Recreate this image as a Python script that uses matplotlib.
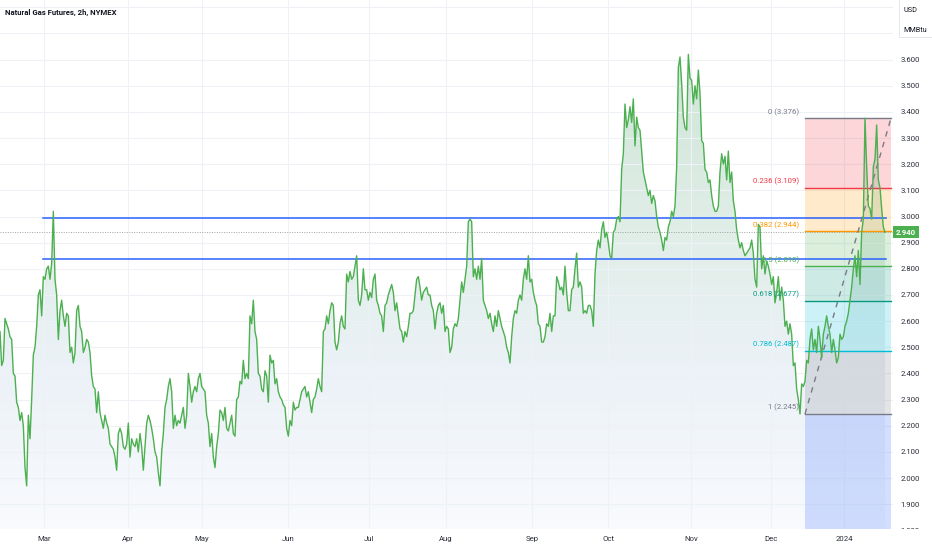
import numpy as np
import matplotlib
matplotlib.use("Agg")
import matplotlib.pyplot as plt
from matplotlib.path import Path
from matplotlib.patches import PathPatch, Rectangle
from matplotlib.transforms import Bbox, blended_transform_factory

# ---------------- data ----------------
title = "Natural Gas Futures, 2h, NYMEX"
currency_label = ["USD", "MMBtu"]

# close prices, one value per sampled bar (uniform spacing)
prices_feb_apr = [
    2.56, 2.43, 2.45, 2.61, 2.59, 2.57, 2.54, 2.53, 2.40, 2.39,
    2.29, 2.27, 2.22, 2.25, 2.20, 2.04, 1.97, 2.24, 2.15, 2.30,
    2.47, 2.50, 2.58, 2.70, 2.72, 2.62, 2.77, 2.76, 2.80, 2.81,
    2.76, 2.82, 3.02, 2.76, 2.70, 2.53, 2.64, 2.68, 2.62, 2.58,
    2.63, 2.62, 2.48, 2.50, 2.44, 2.48, 2.64, 2.66, 2.58, 2.56,
    2.48, 2.50, 2.53, 2.52, 2.48, 2.39, 2.35, 2.34, 2.25, 2.33,
    2.25, 2.22, 2.19, 2.24, 2.21, 2.19, 2.13, 2.12, 2.11, 2.08,
    2.03, 2.17, 2.19, 2.17, 2.12, 2.11, 2.13, 2.21, 2.08, 2.15,
    2.13, 2.12, 2.15, 2.10, 2.17, 2.12, 2.03, 2.12, 2.21, 2.24,
    2.22, 2.19, 2.15, 2.10, 2.08, 2.02, 1.97, 2.10, 2.17, 2.27,
    2.30, 2.35, 2.38, 2.33, 2.19, 2.24, 2.20, 2.22, 2.21, 2.24,
    2.27, 2.19, 2.24, 2.40, 2.35, 2.29, 2.33, 2.35, 2.33, 2.38,
    2.40, 2.35, 2.34, 2.33, 2.24, 2.21, 2.12, 2.17, 2.08, 2.04,
    2.12, 2.17,
]
prices_may_jul = [
    2.26, 2.25, 2.22, 2.27, 2.19, 2.18, 2.21, 2.24, 2.17, 2.16,
    2.30, 2.31, 2.37, 2.36, 2.45, 2.38, 2.40, 2.38, 2.62, 2.59,
    2.68, 2.56, 2.53, 2.40, 2.39, 2.34, 2.33, 2.41, 2.39, 2.29,
    2.47, 2.44, 2.45, 2.36, 2.38, 2.33, 2.31, 2.30, 2.28, 2.27,
    2.19, 2.16, 2.22, 2.20, 2.29, 2.26, 2.27, 2.27, 2.30, 2.33,
    2.34, 2.35, 2.31, 2.33, 2.29, 2.25, 2.30, 2.31, 2.34, 2.38,
    2.35, 2.33, 2.56, 2.57, 2.62, 2.59, 2.64, 2.67, 2.66, 2.52,
    2.49, 2.52, 2.59, 2.62, 2.58, 2.57, 2.78, 2.75, 2.79, 2.76,
    2.77, 2.81, 2.85, 2.68, 2.66, 2.70, 2.80, 2.72, 2.72, 2.68,
    2.71, 2.69, 2.76, 2.78, 2.68, 2.66, 2.63, 2.62, 2.56, 2.66,
    2.67, 2.70, 2.72, 2.74, 2.71, 2.64, 2.67, 2.62, 2.57, 2.56,
    2.52, 2.56, 2.54, 2.58, 2.63, 2.63, 2.64, 2.70, 2.76, 2.77,
    2.73, 2.68, 2.71, 2.72, 2.73, 2.70, 2.70, 2.66, 2.64, 2.57,
    2.63, 2.66,
]
prices_aug_sep = [
    2.67, 2.63, 2.66, 2.56, 2.58, 2.57, 2.48, 2.50, 2.57, 2.59,
    2.58, 2.61, 2.68, 2.75, 2.71, 2.76, 2.81, 2.98, 2.99, 2.98,
    2.77, 2.80, 2.76, 2.81, 2.76, 2.84, 2.68, 2.66, 2.64, 2.61,
    2.63, 2.59, 2.56, 2.62, 2.58, 2.64, 2.61, 2.58, 2.56, 2.54,
    2.50, 2.48, 2.44, 2.54, 2.61, 2.64, 2.63, 2.68, 2.70, 2.68,
    2.76, 2.80, 2.76, 2.85, 2.75, 2.76, 2.71, 2.68, 2.66, 2.59,
    2.58, 2.52, 2.52, 2.54, 2.59, 2.58, 2.63, 2.56, 2.62, 2.62,
    2.77, 2.75, 2.72, 2.73, 2.70, 2.81, 2.71, 2.64, 2.64, 2.72,
    2.73, 2.80, 2.86, 2.73, 2.75, 2.73, 2.63, 2.64, 2.63, 2.66,
]
prices_oct_nov = [
    2.66, 2.64, 2.58, 2.78, 2.87, 2.91, 2.88, 2.95, 2.98, 2.92,
    2.94, 2.90, 2.85, 2.84, 2.94, 2.95, 2.99, 3.00, 2.98, 3.18,
    3.24, 3.43, 3.34, 3.37, 3.42, 3.36, 3.45, 3.27, 3.38, 3.34,
    3.33, 3.25, 3.17, 3.14, 3.11, 3.08, 3.10, 3.05, 3.08, 3.06,
    3.00, 2.96, 2.94, 2.91, 2.87, 2.92, 2.91, 2.96, 2.98, 3.02,
    3.00, 3.04, 3.19, 3.57, 3.61, 3.51, 3.38, 3.34, 3.33, 3.62,
    3.53, 3.52, 3.43, 3.50, 3.45, 3.56, 3.47, 3.29, 3.28, 3.18,
    3.17, 3.13, 3.14, 3.08, 3.04, 3.02, 3.02, 3.04, 3.17, 3.24,
    3.20, 3.23, 3.14, 3.25, 3.13, 3.17, 3.06, 3.02, 2.95, 2.91,
    2.88, 2.90, 2.87, 2.85, 2.86, 2.87, 2.88, 2.91, 2.86, 2.76,
    2.73, 2.97, 2.96, 2.80, 2.85, 2.78, 2.83, 2.81, 2.78, 2.74,
    2.77, 2.67, 2.71, 2.77, 2.68, 2.73,
]
prices_dec_jan = [
    2.68, 2.58, 2.60, 2.55, 2.59, 2.55, 2.43, 2.44, 2.34, 2.30,
    2.245, 2.36, 2.35, 2.37, 2.45, 2.44, 2.53, 2.57, 2.49, 2.53,
    2.48, 2.58, 2.53, 2.46, 2.55, 2.58, 2.62, 2.58, 2.55, 2.48,
    2.53, 2.49, 2.44, 2.46, 2.55, 2.53, 2.54, 2.58, 2.60, 2.63,
    2.68, 2.73, 2.80, 2.85, 2.77, 2.87, 2.74, 2.94, 2.99, 3.376,
    3.19, 3.04, 3.03, 2.99, 3.19, 3.22, 3.35, 3.14, 3.11, 3.03,
    2.96, 2.94,
]
assert [len(prices_feb_apr), len(prices_may_jul), len(prices_aug_sep),
        len(prices_oct_nov), len(prices_dec_jan)] == [132, 132, 90, 116, 62]
prices = prices_feb_apr + prices_may_jul + prices_aug_sep + prices_oct_nov + prices_dec_jan

month_labels = ["Mar", "Apr", "May", "Jun", "Jul", "Aug", "Sep", "Oct", "Nov", "Dec", "2024"]
month_bars = [26.4, 76.8, 121.2, 172.8, 221.4, 267.6, 319.2, 364.8, 414.6, 462.6, 506.4]

price_ticks = [1.9, 2.0, 2.1, 2.2, 2.3, 2.4, 2.5, 2.6, 2.7, 2.8, 2.9,
               3.0, 3.1, 3.2, 3.3, 3.4, 3.5, 3.6]
grid_levels = price_ticks + [3.7, 3.8]

support_levels = [2.993, 2.838]
support_start_bar = 25.8
support_end_bar = 531.6

last_price = 2.940

fib_ratios = ["0", "0.236", "0.382", "0.5", "0.618", "0.786", "1"]
fib_levels = [3.376, 3.109, 2.944, 2.810, 2.677, 2.487, 2.245]
fib_colors = ["#787b86", "#f23645", "#ff9800", "#4caf50", "#089981", "#00bcd4", "#787b86"]
fib_ext_level = 1.546           # 1.618 extension (below visible range)
fib_ext_color = "#2962ff"
fib_start_bar = 483.0
fib_end_bar = 534.6

# ---------------- figure ----------------
plt.rcParams["font.family"] = ["Roboto", "DejaVu Sans"]
W, H = 932, 550
fig = plt.figure(figsize=(W / 100, H / 100), dpi=100)
fig.patch.set_facecolor("white")
ax = fig.add_axes([0, 21 / H, 893 / W, 529 / H])
ax.set_facecolor("white")

x_max = 535.8
y_min, y_max = 1.805, 3.828
x = np.arange(len(prices))
p = np.array(prices)

# gradient area under the line
grad_stops_y = np.array([y_min, 2.4, 2.9, 3.7])
grad_stops_c = np.array([
    [0.975, 0.982, 0.995],
    [0.925, 0.948, 0.970],
    [0.885, 0.935, 0.915],
    [0.800, 0.895, 0.830],
])
ys = np.linspace(y_min, y_max, 300)
cols = np.stack([np.interp(ys, grad_stops_y, grad_stops_c[:, k]) for k in range(3)], axis=1)
img = np.repeat(cols[:, None, :], 2, axis=1)
im = ax.imshow(img, extent=[0, x_max, y_min, y_max], origin="lower",
               aspect="auto", zorder=1, interpolation="bilinear")
verts = [(x[0], y_min)] + list(zip(x, p)) + [(x[-1], y_min), (x[0], y_min)]
clip = PathPatch(Path(verts), facecolor="none", edgecolor="none", transform=ax.transData)
ax.add_patch(clip)
im.set_clip_path(clip)

# grid
for g in grid_levels:
    ax.axhline(g, color="#eef1f6", lw=0.8, zorder=1.5)
for mb in month_bars:
    ax.axvline(mb, color="#eef1f6", lw=0.8, zorder=1.5)

# fib zones
zone_levels = fib_levels + [fib_ext_level]
zone_colors = fib_colors[1:] + [fib_ext_color]
for i in range(len(zone_levels) - 1):
    top, bot = zone_levels[i], zone_levels[i + 1]
    ax.add_patch(Rectangle((fib_start_bar, bot), fib_end_bar - fib_start_bar, top - bot,
                           facecolor=zone_colors[i], alpha=0.2, edgecolor="none", zorder=2))
for lvl, col, r in zip(fib_levels, fib_colors, fib_ratios):
    ax.plot([fib_start_bar, fib_end_bar], [lvl, lvl], color=col, lw=1.0, zorder=3)
    ax.annotate(f"{r} ({lvl:.3f})", xy=(fib_start_bar, lvl), xytext=(-4.3, 4.6),
                textcoords="offset points", ha="right", va="center",
                fontsize=5.6, color=col, zorder=5)
# trend (dashed) line of the fib tool
ax.plot([fib_start_bar, fib_end_bar], [fib_levels[-1], fib_levels[0]],
        color="#787b86", lw=1.0, ls=(0, (4, 4)), zorder=3.5)

# last price dotted line
ax.axhline(last_price, color="#9aa69a", lw=0.7, ls=(0, (1, 1.5)), zorder=2.5)

# support / resistance lines
for s in support_levels:
    ax.plot([support_start_bar, support_end_bar], [s, s], color="#2962ff", lw=1.1, zorder=3)

# price line
ax.plot(x, p, color="#4caf50", lw=1.0, zorder=4, solid_joinstyle="round")

ax.set_xlim(0, x_max)
ax.set_ylim(y_min, y_max)

# axes cosmetics
for sp in ax.spines.values():
    sp.set_visible(False)
ax.set_xticks(month_bars)
ax.set_xticklabels(month_labels)
ax.yaxis.tick_right()
ax.set_yticks(price_ticks)
ax.set_yticklabels([f"{t:.3f}" for t in price_ticks])
ax.tick_params(axis="both", length=0, labelsize=5.6, colors="#2a2e39")
ax.tick_params(axis="y", pad=5.5)
ax.tick_params(axis="x", pad=5)

# partially visible 1.800 label at the bottom
bt = blended_transform_factory(ax.transAxes, ax.transData)
t18 = ax.annotate("1.800", xy=(1.0, 1.8), xycoords=bt, xytext=(5.5, -0.6),
                  textcoords="offset points", ha="left", va="center",
                  fontsize=5.6, color="#2a2e39", annotation_clip=False)
t18.set_clip_on(True)
t18.set_clip_box(Bbox.from_extents(0, 21, W, H))

# last price tag
ax.text(1.003, last_price, "2.940", transform=bt, ha="left", va="center",
        fontsize=5.6, color="white", fontweight="bold", zorder=6, clip_on=False,
        bbox=dict(boxstyle="square,pad=0.35", fc="#4caf50", ec="none"))

# title
fig.text(5 / W, 1 - 12 / H, title, ha="left", va="center", fontsize=5.6,
         fontweight="semibold", color="#131722")

# currency box
fig.patches.append(Rectangle((899 / W, 1 - 37 / H), 40 / W, 40 / H, transform=fig.transFigure,
                             facecolor="white", edgecolor="#e0e3eb", lw=0.6))
fig.text(903 / W, 1 - 11 / H, currency_label[0], ha="left", va="center", fontsize=5.2, color="#131722")
fig.text(903 / W, 1 - 30 / H, currency_label[1], ha="left", va="center", fontsize=5.2, color="#131722")

fig.savefig("out.png", dpi=100, facecolor="white")
